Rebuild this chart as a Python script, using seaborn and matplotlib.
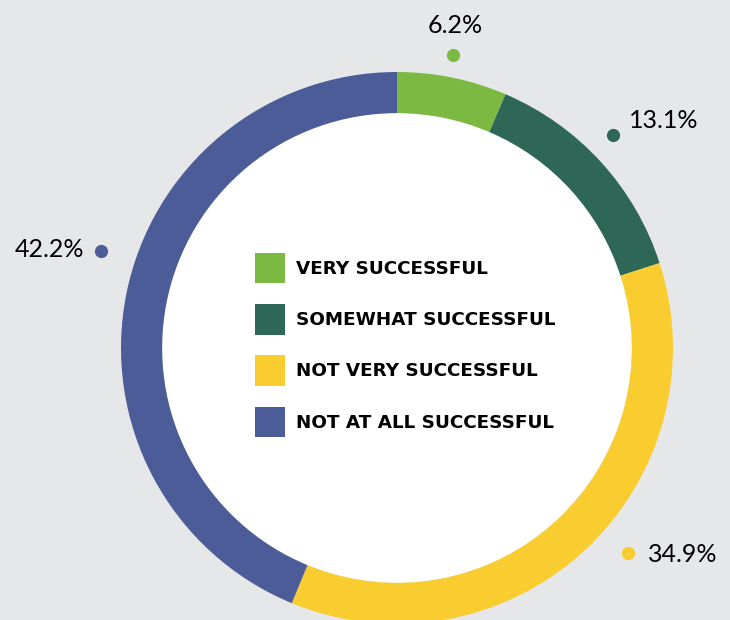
import numpy as np
import matplotlib
matplotlib.use("Agg")
import matplotlib.pyplot as plt
import seaborn as sns
from matplotlib.patches import Patch, Circle

categories = ["VERY SUCCESSFUL", "SOMEWHAT SUCCESSFUL", "NOT VERY SUCCESSFUL", "NOT AT ALL SUCCESSFUL"]
values = [6.2, 13.1, 34.9, 42.2]
labels = ["6.2%", "13.1%", "34.9%", "42.2%"]
colors = ["#7cb942", "#2e6755", "#f9cc30", "#4b5c98"]

# label styling (angle tweak in degrees, radial distance, text offset in points, alignment)
angle_tweak = [-0.8, -2.2, -5.6, 7.0]
dot_radius = [1.08, 1.10, 1.12, 1.13]
text_offsets = [(1.5, 21.5), (11, 10), (14.5, -1), (-12, 0.5)]
text_ha = ["center", "left", "left", "right"]

sns.set_theme(style="white")
bg = "#e6e7e8"
fig = plt.figure(figsize=(7.3, 6.2), dpi=100, facecolor=bg)
ax = fig.add_axes([0, 0, 1, 1])
ax.set_facecolor(bg)

wedges, _ = ax.pie(values, colors=colors, startangle=90, counterclock=False,
                   radius=1.0, wedgeprops=dict(width=0.149, linewidth=0))
ax.add_patch(Circle((0, 0), 0.851, facecolor="white", edgecolor="none", zorder=0.5))

total = sum(values)
cum = 0.0
for i, v in enumerate(values):
    mid = (cum + v / 2) / total * 360 + angle_tweak[i]
    cum += v
    th = np.deg2rad(mid)
    x, y = dot_radius[i] * np.sin(th), dot_radius[i] * np.cos(th)
    ax.plot([x], [y], "o", color=colors[i], markersize=9.5, markeredgewidth=0, clip_on=False)
    ax.annotate(labels[i], (x, y), xytext=text_offsets[i], textcoords="offset points",
                ha=text_ha[i], va="center", fontsize=18, color="#000000",
                family="Lato", fontweight="normal")

ax.set_xlim((0 - 397) / 276, (730 - 397) / 276)
ax.set_ylim((348 - 620) / 276, 348 / 276)
ax.set_aspect("auto")
ax.axis("off")

handles = [Patch(facecolor=c, edgecolor="none") for c in colors]
leg = fig.legend(handles, categories, loc="upper left", bbox_to_anchor=(255 / 730, 1 - 253 / 620),
                 frameon=False, borderpad=0, borderaxespad=0, handlelength=1.66, handleheight=2.18,
                 handletextpad=0.55, labelspacing=1.13, labelcolor="#000000",
                 prop=dict(family="DejaVu Sans", weight="bold", size=13.2))

fig.savefig("out.png", dpi=100, facecolor=bg)
